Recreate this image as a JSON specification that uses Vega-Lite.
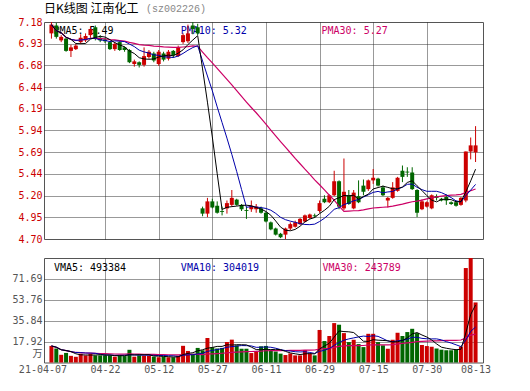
{
  "$schema": "https://vega.github.io/schema/vega-lite/v6.json",
  "background": "white",
  "padding": {"left": 11, "top": 2, "right": 5, "bottom": 5},
  "spacing": 12,
  "config": {
    "view": {"stroke": "#555555", "strokeWidth": 1},
    "axis": {"labelFont": "DejaVu Sans Mono", "labelFontSize": 10, "ticks": false, "domain": false, "gridColor": "#333333", "gridDash": [1, 1], "gridWidth": 1, "labelPadding": 2, "labelOverlap": false, "tickCount": 30}
  },
  "datasets": {
    "kline": [
      {"i":0,"date":"2021-04-07","open":7.05,"high":7.18,"low":6.99,"close":7.15,"volume":14.2},
      {"i":1,"date":"2021-04-08","open":7.14,"high":7.17,"low":6.99,"close":7.01,"volume":12.0},
      {"i":2,"date":"2021-04-09","open":6.97,"high":7.03,"low":6.95,"close":7.01,"volume":6.6},
      {"i":3,"date":"2021-04-12","open":6.99,"high":7.00,"low":6.84,"close":6.85,"volume":8.2},
      {"i":4,"date":"2021-04-13","open":6.85,"high":6.92,"low":6.78,"close":6.89,"volume":5.7},
      {"i":5,"date":"2021-04-14","open":6.87,"high":6.93,"low":6.86,"close":6.91,"volume":4.9},
      {"i":6,"date":"2021-04-15","open":6.95,"high":7.04,"low":6.93,"close":7.00,"volume":7.5},
      {"i":7,"date":"2021-04-16","open":6.97,"high":7.05,"low":6.95,"close":7.02,"volume":6.1},
      {"i":8,"date":"2021-04-19","open":7.03,"high":7.13,"low":7.00,"close":7.10,"volume":7.5},
      {"i":9,"date":"2021-04-20","open":7.12,"high":7.14,"low":6.97,"close":6.99,"volume":6.1},
      {"i":10,"date":"2021-04-21","open":7.00,"high":7.03,"low":6.95,"close":6.97,"volume":6.1},
      {"i":11,"date":"2021-04-22","open":6.98,"high":7.00,"low":6.94,"close":6.96,"volume":6.1},
      {"i":12,"date":"2021-04-23","open":6.95,"high":6.96,"low":6.86,"close":6.87,"volume":6.1},
      {"i":13,"date":"2021-04-26","open":6.87,"high":6.95,"low":6.85,"close":6.93,"volume":5.0},
      {"i":14,"date":"2021-04-27","open":6.95,"high":6.96,"low":6.85,"close":6.86,"volume":6.1},
      {"i":15,"date":"2021-04-28","open":6.89,"high":6.90,"low":6.84,"close":6.86,"volume":5.5},
      {"i":16,"date":"2021-04-29","open":6.86,"high":6.87,"low":6.71,"close":6.72,"volume":10.9},
      {"i":17,"date":"2021-04-30","open":6.70,"high":6.75,"low":6.67,"close":6.73,"volume":5.0},
      {"i":18,"date":"2021-05-06","open":6.72,"high":6.73,"low":6.66,"close":6.69,"volume":6.1},
      {"i":19,"date":"2021-05-07","open":6.69,"high":6.89,"low":6.67,"close":6.79,"volume":5.8},
      {"i":20,"date":"2021-05-10","open":6.78,"high":6.86,"low":6.76,"close":6.84,"volume":5.8},
      {"i":21,"date":"2021-05-11","open":6.82,"high":6.84,"low":6.72,"close":6.74,"volume":5.0},
      {"i":22,"date":"2021-05-12","open":6.70,"high":6.86,"low":6.68,"close":6.84,"volume":4.5},
      {"i":23,"date":"2021-05-13","open":6.82,"high":6.84,"low":6.73,"close":6.75,"volume":5.0},
      {"i":24,"date":"2021-05-14","open":6.76,"high":6.86,"low":6.74,"close":6.84,"volume":4.5},
      {"i":25,"date":"2021-05-17","open":6.85,"high":6.86,"low":6.77,"close":6.80,"volume":4.5},
      {"i":26,"date":"2021-05-18","open":6.79,"high":6.91,"low":6.78,"close":6.89,"volume":5.8},
      {"i":27,"date":"2021-05-19","open":6.95,"high":7.05,"low":6.93,"close":7.03,"volume":14.3},
      {"i":28,"date":"2021-05-20","open":6.96,"high":7.15,"low":6.94,"close":7.05,"volume":9.9},
      {"i":29,"date":"2021-05-21","open":7.14,"high":7.18,"low":7.04,"close":7.10,"volume":7.5},
      {"i":30,"date":"2021-05-24","open":7.12,"high":7.16,"low":7.03,"close":7.05,"volume":12.5},
      {"i":31,"date":"2021-05-25","open":5.05,"high":5.07,"low":4.96,"close":4.99,"volume":10.5},
      {"i":32,"date":"2021-05-26","open":4.99,"high":5.17,"low":4.95,"close":5.13,"volume":21.0},
      {"i":33,"date":"2021-05-27","open":5.13,"high":5.16,"low":5.05,"close":5.06,"volume":13.0},
      {"i":34,"date":"2021-05-28","open":5.08,"high":5.13,"low":4.99,"close":5.00,"volume":12.0},
      {"i":35,"date":"2021-05-31","open":5.02,"high":5.07,"low":4.97,"close":5.01,"volume":12.5},
      {"i":36,"date":"2021-06-01","open":5.05,"high":5.14,"low":4.99,"close":5.11,"volume":17.6},
      {"i":37,"date":"2021-06-02","open":5.09,"high":5.26,"low":5.07,"close":5.17,"volume":19.6},
      {"i":38,"date":"2021-06-03","open":5.15,"high":5.16,"low":5.08,"close":5.09,"volume":14.7},
      {"i":39,"date":"2021-06-04","open":5.09,"high":5.10,"low":5.02,"close":5.04,"volume":11.8},
      {"i":40,"date":"2021-06-07","open":5.03,"high":5.07,"low":4.93,"close":5.02,"volume":11.8},
      {"i":41,"date":"2021-06-08","open":5.04,"high":5.14,"low":5.01,"close":5.08,"volume":8.1},
      {"i":42,"date":"2021-06-09","open":5.04,"high":5.10,"low":5.00,"close":5.07,"volume":9.0},
      {"i":43,"date":"2021-06-10","open":5.05,"high":5.07,"low":4.99,"close":5.00,"volume":13.9},
      {"i":44,"date":"2021-06-11","open":5.00,"high":5.01,"low":4.89,"close":4.90,"volume":14.2},
      {"i":45,"date":"2021-06-15","open":4.89,"high":4.90,"low":4.80,"close":4.81,"volume":10.0},
      {"i":46,"date":"2021-06-16","open":4.82,"high":4.83,"low":4.74,"close":4.75,"volume":9.4},
      {"i":47,"date":"2021-06-17","open":4.76,"high":4.77,"low":4.71,"close":4.72,"volume":7.6},
      {"i":48,"date":"2021-06-18","open":4.75,"high":4.83,"low":4.70,"close":4.82,"volume":6.4},
      {"i":49,"date":"2021-06-21","open":4.82,"high":4.89,"low":4.80,"close":4.87,"volume":7.8},
      {"i":50,"date":"2021-06-22","open":4.84,"high":4.91,"low":4.83,"close":4.89,"volume":6.1},
      {"i":51,"date":"2021-06-23","open":4.87,"high":4.94,"low":4.86,"close":4.93,"volume":6.1},
      {"i":52,"date":"2021-06-24","open":4.90,"high":4.98,"low":4.89,"close":4.97,"volume":10.7},
      {"i":53,"date":"2021-06-25","open":4.94,"high":4.99,"low":4.93,"close":4.98,"volume":7.6},
      {"i":54,"date":"2021-06-28","open":4.97,"high":4.99,"low":4.94,"close":4.96,"volume":6.1},
      {"i":55,"date":"2021-06-29","open":5.02,"high":5.14,"low":5.00,"close":5.11,"volume":27.9},
      {"i":56,"date":"2021-06-30","open":5.16,"high":5.20,"low":5.11,"close":5.12,"volume":18.4},
      {"i":57,"date":"2021-07-01","open":5.12,"high":5.21,"low":5.11,"close":5.20,"volume":22.7},
      {"i":58,"date":"2021-07-02","open":5.20,"high":5.48,"low":5.19,"close":5.36,"volume":33.8},
      {"i":59,"date":"2021-07-05","open":5.36,"high":5.37,"low":5.04,"close":5.07,"volume":32.4},
      {"i":60,"date":"2021-07-06","open":5.05,"high":5.62,"low":5.03,"close":5.24,"volume":25.2},
      {"i":61,"date":"2021-07-07","open":5.20,"high":5.26,"low":5.09,"close":5.10,"volume":17.5},
      {"i":62,"date":"2021-07-08","open":5.05,"high":5.26,"low":5.04,"close":5.23,"volume":19.5},
      {"i":63,"date":"2021-07-09","open":5.19,"high":5.37,"low":5.11,"close":5.12,"volume":15.8},
      {"i":64,"date":"2021-07-13","open":5.31,"high":5.38,"low":5.20,"close":5.24,"volume":13.2},
      {"i":65,"date":"2021-07-14","open":5.27,"high":5.38,"low":5.25,"close":5.37,"volume":24.6},
      {"i":66,"date":"2021-07-15","open":5.37,"high":5.50,"low":5.33,"close":5.40,"volume":24.6},
      {"i":67,"date":"2021-07-16","open":5.39,"high":5.40,"low":5.30,"close":5.31,"volume":17.5},
      {"i":68,"date":"2021-07-19","open":5.29,"high":5.31,"low":5.19,"close":5.20,"volume":14.7},
      {"i":69,"date":"2021-07-20","open":5.14,"high":5.18,"low":5.06,"close":5.17,"volume":11.8},
      {"i":70,"date":"2021-07-21","open":5.17,"high":5.35,"low":5.16,"close":5.29,"volume":19.5},
      {"i":71,"date":"2021-07-22","open":5.25,"high":5.41,"low":5.24,"close":5.40,"volume":25.5},
      {"i":72,"date":"2021-07-23","open":5.48,"high":5.54,"low":5.35,"close":5.41,"volume":22.7},
      {"i":73,"date":"2021-07-26","open":5.47,"high":5.52,"low":5.41,"close":5.46,"volume":26.1},
      {"i":74,"date":"2021-07-27","open":5.46,"high":5.52,"low":5.26,"close":5.27,"volume":28.9},
      {"i":75,"date":"2021-07-28","open":5.26,"high":5.27,"low":4.95,"close":5.00,"volume":25.2},
      {"i":76,"date":"2021-07-29","open":5.04,"high":5.15,"low":5.03,"close":5.13,"volume":15.0},
      {"i":77,"date":"2021-07-30","open":5.07,"high":5.13,"low":5.06,"close":5.12,"volume":14.1},
      {"i":78,"date":"2021-08-02","open":5.05,"high":5.21,"low":5.04,"close":5.20,"volume":13.5},
      {"i":79,"date":"2021-08-03","open":5.19,"high":5.21,"low":5.14,"close":5.17,"volume":12.0},
      {"i":80,"date":"2021-08-04","open":5.16,"high":5.17,"low":5.13,"close":5.14,"volume":11.0},
      {"i":81,"date":"2021-08-05","open":5.18,"high":5.21,"low":5.09,"close":5.14,"volume":10.5},
      {"i":82,"date":"2021-08-06","open":5.12,"high":5.13,"low":5.09,"close":5.10,"volume":10.5},
      {"i":83,"date":"2021-08-09","open":5.12,"high":5.14,"low":5.07,"close":5.08,"volume":11.0},
      {"i":84,"date":"2021-08-10","open":5.09,"high":5.18,"low":5.08,"close":5.17,"volume":13.6},
      {"i":85,"date":"2021-08-11","open":5.14,"high":5.70,"low":5.12,"close":5.70,"volume":81.0},
      {"i":86,"date":"2021-08-12","open":5.70,"high":5.86,"low":5.61,"close":5.77,"volume":89.6},
      {"i":87,"date":"2021-08-13","open":5.69,"high":5.99,"low":5.58,"close":5.77,"volume":51.5}
    ],
    "labels": [
      {"panel": "price", "series": "MA5", "label": "PMA5: 5.49"},
      {"panel": "price", "series": "MA10", "label": "PMA10: 5.32"},
      {"panel": "price", "series": "MA30", "label": "PMA30: 5.27"},
      {"panel": "volume", "series": "MA5", "label": "VMA5: 493384"},
      {"panel": "volume", "series": "MA10", "label": "VMA10: 304019"},
      {"panel": "volume", "series": "MA30", "label": "VMA30: 243789"}
    ]
  },
  "vconcat": [
    {
      "width": 439,
      "height": 217,
      "title": {"text": "日K线图 江南化工", "subtitle": "\u200b\u00a0\u00a0\u00a0\u00a0\u00a0\u00a0\u00a0\u00a0\u00a0\u00a0\u00a0\u00a0\u00a0\u00a0\u00a0\u00a0\u00a0(sz002226)", "anchor": "start", "frame": "group", "font": "Noto Sans CJK SC", "fontSize": 12, "fontWeight": "normal", "color": "#000000", "offset": 1,
        "subtitleFont": "Liberation Mono", "subtitleFontSize": 10, "subtitleColor": "#888888", "subtitlePadding": -12},
      "layer": [
        {
          "data": {"name": "labels"},
          "transform": [{"filter": "datum.panel == 'price' && datum.series == 'MA5'"}],
          "mark": {"type": "text", "align": "left", "baseline": "middle", "font": "DejaVu Sans Mono", "fontSize": 10, "fill": "#000000"},
          "encoding": {
            "x": {"datum": 0.4, "type": "quantitative", "title": null,
              "scale": {"domain": [-0.5, 87.5], "nice": false, "zero": false},
              "axis": {"values": [11, 22, 33, 44, 55, 66, 77], "labels": false, "grid": true, "title": null, "minExtent": 0, "maxExtent": 0}},
            "y": {"datum": 7.08, "type": "quantitative", "title": null,
              "scale": {"domain": [4.70, 7.18], "nice": false, "zero": false},
              "axis": {"values": [4.70, 4.948, 5.196, 5.444, 5.692, 5.94, 6.188, 6.436, 6.684, 6.932, 7.18], "tickCount": 30, "format": ".2f", "labelColor": "#cc0000", "grid": true, "title": null, "labelOverlap": false, "labelBound": false,
                "gridOpacity": {"condition": {"test": "datum.value < 4.71 || datum.value > 7.17", "value": 0}, "value": 1}}},
            "text": {"field": "label", "type": "nominal"}
          }
        },
        {
          "data": {"name": "labels"},
          "transform": [{"filter": "datum.panel == 'price' && datum.series == 'MA10'"}],
          "mark": {"type": "text", "align": "left", "baseline": "middle", "font": "DejaVu Sans Mono", "fontSize": 10, "fill": "#0000aa"},
          "encoding": {"x": {"datum": 26.5, "title": null}, "y": {"datum": 7.08, "title": null}, "text": {"field": "label", "type": "nominal"}}
        },
        {
          "data": {"name": "labels"},
          "transform": [{"filter": "datum.panel == 'price' && datum.series == 'MA30'"}],
          "mark": {"type": "text", "align": "left", "baseline": "middle", "font": "DejaVu Sans Mono", "fontSize": 10, "fill": "#cc0066"},
          "encoding": {"x": {"datum": 55.4, "title": null}, "y": {"datum": 7.08, "title": null}, "text": {"field": "label", "type": "nominal"}}
        },
        {
          "data": {"name": "kline"},
          "mark": {"type": "rule", "strokeWidth": 1},
          "encoding": {
            "x": {"field": "i", "type": "quantitative", "title": null},
            "y": {"field": "low", "type": "quantitative", "title": null},
            "y2": {"field": "high"},
            "color": {"condition": {"test": "datum.close >= datum.open", "value": "#cc0000"}, "value": "#006600"}
          }
        },
        {
          "data": {"name": "kline"},
          "mark": {"type": "bar", "size": 4},
          "encoding": {
            "x": {"field": "i", "type": "quantitative", "title": null},
            "y": {"field": "open", "type": "quantitative", "title": null},
            "y2": {"field": "close"},
            "color": {"condition": {"test": "datum.close >= datum.open", "value": "#cc0000"}, "value": "#006600"}
          }
        },
        {
          "data": {"name": "kline"},
          "transform": [{"window": [{"op": "mean", "field": "close", "as": "ma30"}], "frame": [-29, 0], "sort": [{"field": "i"}]}],
          "mark": {"type": "line", "color": "#cc0066", "strokeWidth": 1.2},
          "encoding": {"x": {"field": "i", "type": "quantitative", "title": null}, "y": {"field": "ma30", "type": "quantitative", "title": null}}
        },
        {
          "data": {"name": "kline"},
          "transform": [{"window": [{"op": "mean", "field": "close", "as": "ma10"}], "frame": [-9, 0], "sort": [{"field": "i"}]}],
          "mark": {"type": "line", "color": "#0000aa", "strokeWidth": 1},
          "encoding": {"x": {"field": "i", "type": "quantitative", "title": null}, "y": {"field": "ma10", "type": "quantitative", "title": null}}
        },
        {
          "data": {"name": "kline"},
          "transform": [{"window": [{"op": "mean", "field": "close", "as": "ma5"}], "frame": [-4, 0], "sort": [{"field": "i"}]}],
          "mark": {"type": "line", "color": "#000000", "strokeWidth": 1},
          "encoding": {"x": {"field": "i", "type": "quantitative", "title": null}, "y": {"field": "ma5", "type": "quantitative", "title": null}}
        }
      ]
    },
    {
      "width": 439,
      "height": 104.5,
      "layer": [
        {
          "data": {"name": "labels"},
          "transform": [{"filter": "datum.panel == 'volume' && datum.series == 'MA5'"}],
          "mark": {"type": "text", "align": "left", "baseline": "middle", "font": "DejaVu Sans Mono", "fontSize": 10, "fill": "#000000"},
          "encoding": {
            "x": {"datum": 0.5, "type": "quantitative", "title": null,
              "scale": {"domain": [-0.5, 87.5], "nice": false, "zero": false},
              "axis": {"values": [0, 11, 22, 33, 44, 55, 66, 77, 87], "grid": true, "title": null, "labelFlush": false, "labelColor": "#555555", "labelPadding": 2, "labelOverlap": false,
                "labelExpr": "datum.value==0?'21-04-07':datum.value==11?'04-22':datum.value==22?'05-12':datum.value==33?'05-27':datum.value==44?'06-11':datum.value==55?'06-29':datum.value==66?'07-15':datum.value==77?'07-30':'08-13'",
                "labelOffset": {"condition": {"test": "datum.value == 0", "value": -9}, "value": 0},
                "gridOpacity": {"condition": {"test": "datum.value == 0 || datum.value == 87", "value": 0}, "value": 1}}},
            "y": {"datum": 81.0, "type": "quantitative", "title": null,
              "scale": {"domain": [0, 89.6], "nice": false},
              "axis": {"values": [7.3, 17.92, 35.84, 53.76, 71.69], "tickCount": 30, "labelColor": "#555555", "labelFont": "DejaVu Sans Mono, Noto Sans CJK SC", "grid": true, "title": null, "labelOverlap": false, "labelBound": false,
                "labelExpr": "datum.value < 10 ? '万' : format(datum.value, '.2f')",
                "gridOpacity": {"condition": {"test": "datum.value < 10", "value": 0}, "value": 1}}},
            "text": {"field": "label", "type": "nominal"}
          }
        },
        {
          "data": {"name": "labels"},
          "transform": [{"filter": "datum.panel == 'volume' && datum.series == 'MA10'"}],
          "mark": {"type": "text", "align": "left", "baseline": "middle", "font": "DejaVu Sans Mono", "fontSize": 10, "fill": "#0000aa"},
          "encoding": {"x": {"datum": 26.55, "title": null}, "y": {"datum": 81.0, "title": null}, "text": {"field": "label", "type": "nominal"}}
        },
        {
          "data": {"name": "labels"},
          "transform": [{"filter": "datum.panel == 'volume' && datum.series == 'MA30'"}],
          "mark": {"type": "text", "align": "left", "baseline": "middle", "font": "DejaVu Sans Mono", "fontSize": 10, "fill": "#cc0066"},
          "encoding": {"x": {"datum": 55.6, "title": null}, "y": {"datum": 81.0, "title": null}, "text": {"field": "label", "type": "nominal"}}
        },
        {
          "data": {"name": "kline"},
          "mark": {"type": "bar", "size": 4},
          "encoding": {
            "x": {"field": "i", "type": "quantitative", "title": null},
            "y": {"field": "volume", "type": "quantitative", "title": null},
            "color": {"condition": {"test": "datum.close >= datum.open", "value": "#cc0000"}, "value": "#006600"}
          }
        },
        {
          "data": {"name": "kline"},
          "transform": [{"window": [{"op": "mean", "field": "volume", "as": "vma30"}], "frame": [-29, 0], "sort": [{"field": "i"}]}],
          "mark": {"type": "line", "color": "#cc0066", "strokeWidth": 1.2},
          "encoding": {"x": {"field": "i", "type": "quantitative", "title": null}, "y": {"field": "vma30", "type": "quantitative", "title": null}}
        },
        {
          "data": {"name": "kline"},
          "transform": [{"window": [{"op": "mean", "field": "volume", "as": "vma10"}], "frame": [-9, 0], "sort": [{"field": "i"}]}],
          "mark": {"type": "line", "color": "#0000aa", "strokeWidth": 1},
          "encoding": {"x": {"field": "i", "type": "quantitative", "title": null}, "y": {"field": "vma10", "type": "quantitative", "title": null}}
        },
        {
          "data": {"name": "kline"},
          "transform": [{"window": [{"op": "mean", "field": "volume", "as": "vma5"}], "frame": [-4, 0], "sort": [{"field": "i"}]}],
          "mark": {"type": "line", "color": "#000000", "strokeWidth": 1},
          "encoding": {"x": {"field": "i", "type": "quantitative", "title": null}, "y": {"field": "vma5", "type": "quantitative", "title": null}}
        }
      ]
    }
  ]
}
